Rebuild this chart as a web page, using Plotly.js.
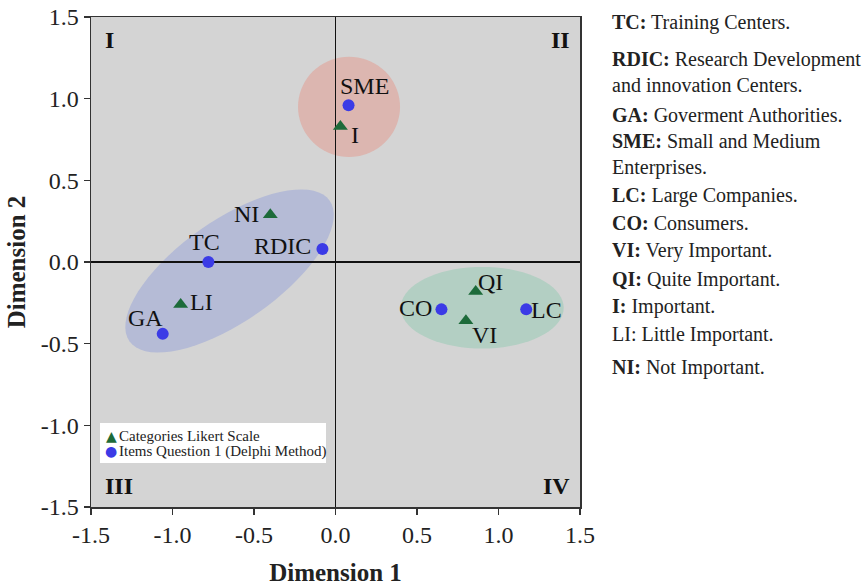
<!DOCTYPE html>
<html>
<head>
<meta charset="utf-8">
<script src="https://cdn.plot.ly/plotly-3.0.1.min.js"></script>
<style>html,body{margin:0;padding:0;background:#fff;}#chart{width:867px;height:586px;}</style>
</head>
<body>
<div id="chart"></div>
<script>
// Items Question 1 (Delphi Method)
const itemNames = ['SME', 'RDIC', 'TC', 'GA', 'CO', 'LC'];
const itemX = [0.08, -0.08, -0.78, -1.06, 0.65, 1.17];
const itemY = [0.96, 0.08, 0.00, -0.44, -0.29, -0.29];

// Categories Likert Scale
const likertNames = ['I', 'NI', 'LI', 'QI', 'VI'];
const likertX = [0.03, -0.40, -0.95, 0.86, 0.80];
const likertY = [0.83, 0.29, -0.26, -0.18, -0.36];

// Series names
const seriesNames = ['Categories Likert Scale', 'Items Question 1 (Delphi Method)'];

// Side glossary
const glossAbbr = ['TC', 'RDIC', 'GA', 'SME', 'LC', 'CO', 'VI', 'QI', 'I', 'LI', 'NI'];
const glossDesc = ['Training Centers.', 'Research Development<br>and innovation Centers.', 'Goverment Authorities.',
  'Small and Medium<br>Enterprises.', 'Large Companies.', 'Consumers.', 'Very Important.', 'Quite Important.',
  'Important.', 'Little Important.', 'Not Important.'];
const glossBold = [true, true, true, true, true, true, true, true, true, false, true];

const quadrants = ['I', 'II', 'III', 'IV'];
const xTicks = [-1.5, -1.0, -0.5, 0.0, 0.5, 1.0, 1.5];
const yTicks = [-1.5, -1.0, -0.5, 0.0, 0.5, 1.0, 1.5];

// ---- styling (label pixel offsets etc.) ----
const itemShift = [[16, 19], [-40, 3], [-4, 20], [-17, 16], [-26, 1], [20, -1]];
const likertShift = [[15, -9], [-24, 1], [21, 2], [15, 9], [19, -14]];

const FONT = 'Liberation Serif, DejaVu Serif, serif';
const GREEN = '#1d6b3a';
const BLUE = '#3b3be6';

function ellipsePath(cx, cy, a, b, deg) {
  const t = deg * Math.PI / 180;
  let p = '';
  for (let i = 0; i <= 72; i++) {
    const u = i / 72 * 2 * Math.PI;
    const x = cx + a * Math.cos(u) * Math.cos(t) - b * Math.sin(u) * Math.sin(t);
    const y = cy + a * Math.cos(u) * Math.sin(t) + b * Math.sin(u) * Math.cos(t);
    p += (i === 0 ? 'M' : 'L') + x.toFixed(4) + ',' + y.toFixed(4);
  }
  return p + 'Z';
}

const traces = [
  {x: likertX, y: likertY, mode: 'markers', type: 'scatter', name: seriesNames[0],
   marker: {symbol: 'triangle-up', size: 13, color: GREEN}, hoverinfo: 'skip', showlegend: false},
  {x: itemX, y: itemY, mode: 'markers', type: 'scatter', name: seriesNames[1],
   marker: {symbol: 'circle', size: 12, color: BLUE}, hoverinfo: 'skip', showlegend: false}
];

const px2x = p => (p - 91) / 489;
const px2y = p => (507 - p) / 490;

const shapes = [
  {type: 'path', xref: 'x', yref: 'y', path: ellipsePath(-0.65, -0.055, 0.75, 0.31, 35), fillcolor: '#b5bbd6', line: {width: 0}, layer: 'below'},
  {type: 'path', xref: 'x', yref: 'y', path: ellipsePath(0.083, 0.95, 0.313, 0.307, 0), fillcolor: '#dcb6b0', line: {width: 0}, layer: 'below'},
  {type: 'path', xref: 'x', yref: 'y', path: ellipsePath(0.90, -0.28, 0.50, 0.25, 0), fillcolor: '#b3cfc3', line: {width: 0}, layer: 'below'},
  // legend box
  {type: 'rect', xref: 'paper', yref: 'paper', x0: px2x(100), x1: px2x(326), y0: px2y(463), y1: px2y(423),
   fillcolor: '#ffffff', line: {width: 0}, layer: 'above'}
];

const annotations = [];
// point labels
itemNames.forEach((n, i) => annotations.push({
  text: n, xref: 'x', yref: 'y', x: itemX[i], y: itemY[i], xshift: itemShift[i][0], yshift: itemShift[i][1],
  xanchor: 'center', yanchor: 'middle', showarrow: false, font: {family: FONT, size: 24, color: '#111'}
}));
likertNames.forEach((n, i) => annotations.push({
  text: n, xref: 'x', yref: 'y', x: likertX[i], y: likertY[i], xshift: likertShift[i][0], yshift: likertShift[i][1],
  xanchor: 'center', yanchor: 'middle', showarrow: false, font: {family: FONT, size: 24, color: '#111'}
}));

// quadrant labels
const qx = [103, 572, 103, 572];
const qy = [40, 40, 486, 486];
const qa = ['left', 'right', 'left', 'right'];
quadrants.forEach((q, i) => annotations.push({
  text: '<b>' + q + '</b>', xref: 'paper', yref: 'paper', x: px2x(qx[i]), y: px2y(qy[i]), xanchor: qa[i], yanchor: 'middle',
  showarrow: false, font: {family: FONT, size: 24, color: '#111'}
}));

// legend (manual)
const legSym = ['\u25B2', '\u25CF'];
const legCol = [GREEN, BLUE];
const legY = [436, 451];
seriesNames.forEach((n, i) => {
  annotations.push({text: legSym[i], xref: 'paper', yref: 'paper', x: px2x(111), y: px2y(legY[i]), xanchor: 'center', yanchor: 'middle',
    showarrow: false, font: {family: 'DejaVu Sans', size: 14, color: legCol[i]}});
  annotations.push({text: n, xref: 'paper', yref: 'paper', x: px2x(117), y: px2y(legY[i]), xanchor: 'left', yanchor: 'middle',
    showarrow: false, font: {family: FONT, size: 15, color: '#222'}});
});

// glossary
const glossY = [22, 71.5, 115, 154, 195, 223, 251, 279, 306, 334, 367];
glossAbbr.forEach((ab, i) => annotations.push({
  text: (glossBold[i] ? '<b>' + ab + ':</b> ' : ab + ': ') + glossDesc[i],
  xref: 'paper', yref: 'paper', x: px2x(610), y: px2y(glossY[i]),
  xanchor: 'left', yanchor: 'middle', align: 'left', showarrow: false,
  font: {family: FONT, size: 20, color: '#222'}
}));

const axisCommon = {
  range: [-1.5, 1.5], showgrid: false, zeroline: true, zerolinecolor: '#111', zerolinewidth: 1.5,
  showline: true, linecolor: '#333', linewidth: 1.5, mirror: true,
  ticks: 'outside', ticklen: 6, tickwidth: 1.5, tickcolor: '#333',
  tickfont: {family: FONT, size: 24, color: '#222'}, fixedrange: true, automargin: false
};

const layout = {
  width: 867, height: 586,
  margin: {l: 91, r: 287, t: 17, b: 79},
  paper_bgcolor: '#ffffff', plot_bgcolor: '#d4d4d4',
  xaxis: Object.assign({}, axisCommon, {tickvals: xTicks, ticktext: xTicks.map(v => v.toFixed(1)),
    title: {text: '<b>Dimension 1</b>', font: {family: FONT, size: 25, color: '#222'}, standoff: 18}}),
  yaxis: Object.assign({}, axisCommon, {tickvals: yTicks, ticktext: yTicks.map(v => v.toFixed(1)),
    title: {text: '<b>Dimension 2</b>', font: {family: FONT, size: 25, color: '#222'}, standoff: 8}}),
  showlegend: false,
  shapes: shapes,
  annotations: annotations
};

Plotly.newPlot('chart', traces, layout, {displayModeBar: false, staticPlot: true});
</script>
</body>
</html>
